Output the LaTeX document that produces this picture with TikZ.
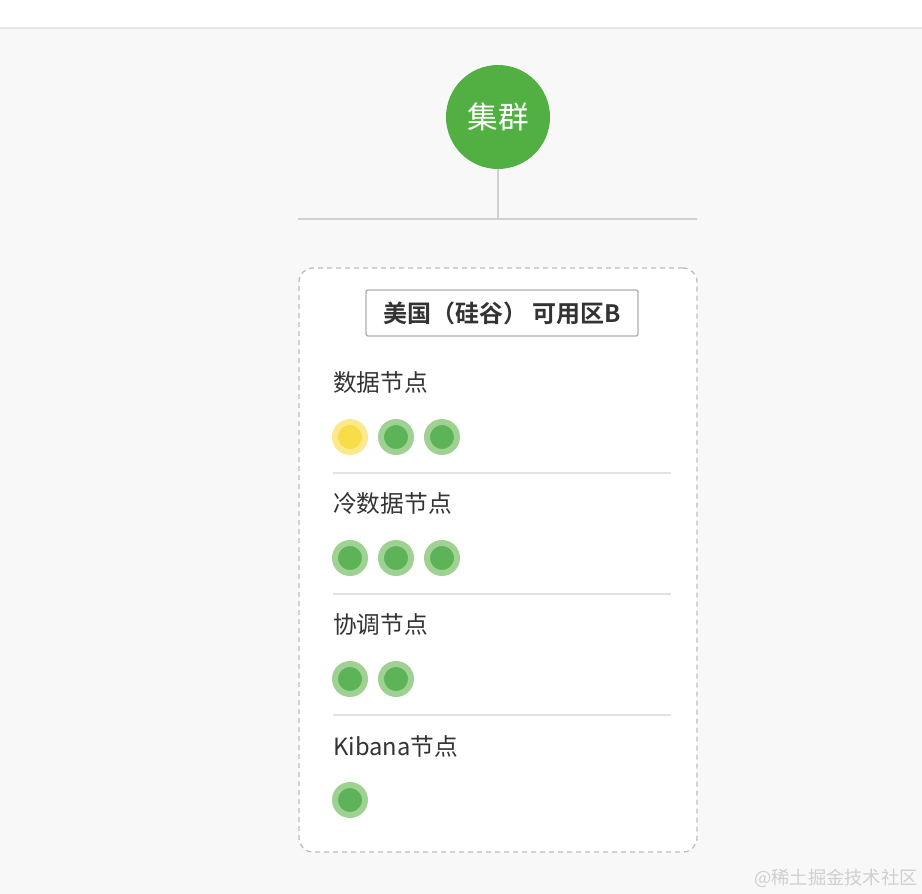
\documentclass[tikz,border=0pt]{standalone}
\usepackage{fontspec}
\setmainfont{Noto Sans CJK SC}
\newfontfamily\cjkbold[BoldFont={Noto Sans CJK SC Bold}]{Noto Sans CJK SC}
\definecolor{bgpage}{HTML}{F8F8F8}
\definecolor{topline}{HTML}{E6E6E6}
\definecolor{clustergreen}{HTML}{52B043}
\definecolor{linegray}{HTML}{D0D0D0}
\definecolor{dashgray}{HTML}{BDBDBD}
\definecolor{titlegray}{HTML}{AFAFAF}
\definecolor{sepgray}{HTML}{E2E2E2}
\definecolor{txt}{HTML}{333333}
\definecolor{dotin}{HTML}{5CB358}
\definecolor{dotout}{HTML}{9FD192}
\definecolor{ylwin}{HTML}{F8DC48}
\definecolor{ylwout}{HTML}{FBE98C}
\definecolor{wm}{HTML}{CFCFCF}
\begin{document}
\begin{tikzpicture}[x=1pt,y=-1pt,
  dot/.style={circle, inner sep=0pt, minimum size=30pt, line width=6pt, fill=dotin, draw=dotout},
  ydot/.style={dot, fill=ylwin, draw=ylwout},
  lbl/.style={anchor=west, inner sep=0pt, text=txt, font=\fontsize{23.7}{28}\selectfont},
  sepline/.style={draw=sepgray, line width=1.2pt},
  conn/.style={draw=linegray, line width=1.5pt}]
\useasboundingbox (0,0) rectangle (922,894);
\fill[white] (0,0) rectangle (922,27);
\fill[bgpage] (0,27) rectangle (922,894);
\draw[topline, line width=1.5pt] (0,28) -- (922,28);
% cluster
\node[circle, fill=clustergreen, minimum size=104pt, inner sep=0pt, text=white,
  font=\fontsize{30.5}{34}\selectfont] (cluster) at (498,117) {集群};
\coordinate (junction) at (498,219);
\coordinate (hleft) at (298,219);
\coordinate (hright) at (697,219);
\draw[conn] (cluster.south) -- (junction);
\draw[conn] (hleft) -- (hright);
% zone box
\node[draw=dashgray, fill=white, rounded corners=14pt, dash pattern=on 5pt off 4pt,
  line width=1.3pt, minimum width=398pt, minimum height=584pt, inner sep=0pt] (zone) at (498,560) {};
\node[draw=titlegray, fill=white, rounded corners=2pt, line width=1.3pt,
  minimum width=272pt, minimum height=46pt, inner sep=0pt, text=txt,
  font=\cjkbold\bfseries\fontsize{24}{28}\selectfont] (title) at (502,313) {美国（硅谷） 可用区B};
% section 1
\node[lbl] (l1) at (333,383) {数据节点};
\node[ydot] (d11) at (350,437) {};
\node[dot] (d12) at (396,437) {};
\node[dot] (d13) at (442,437) {};
\coordinate (s1a) at (333,473); \coordinate (s1b) at (671,473);
\draw[sepline] (s1a) -- (s1b);
% section 2
\node[lbl] (l2) at (333,504) {冷数据节点};
\node[dot] (d21) at (350,558) {};
\node[dot] (d22) at (396,558) {};
\node[dot] (d23) at (442,558) {};
\coordinate (s2a) at (333,594); \coordinate (s2b) at (671,594);
\draw[sepline] (s2a) -- (s2b);
% section 3
\node[lbl] (l3) at (333,625) {协调节点};
\node[dot] (d31) at (350,679) {};
\node[dot] (d32) at (396,679) {};
\coordinate (s3a) at (333,715); \coordinate (s3b) at (671,715);
\draw[sepline] (s3a) -- (s3b);
% section 4
\node[lbl] (l4) at (333,746) {Kibana节点};
\node[dot] (d41) at (350,800) {};
% watermark
\node[anchor=east, inner sep=0pt, text=wm, font=\fontsize{18.3}{22}\selectfont] (wmark) at (918,878) {@稀土掘金技术社区};
\end{tikzpicture}
\end{document}
